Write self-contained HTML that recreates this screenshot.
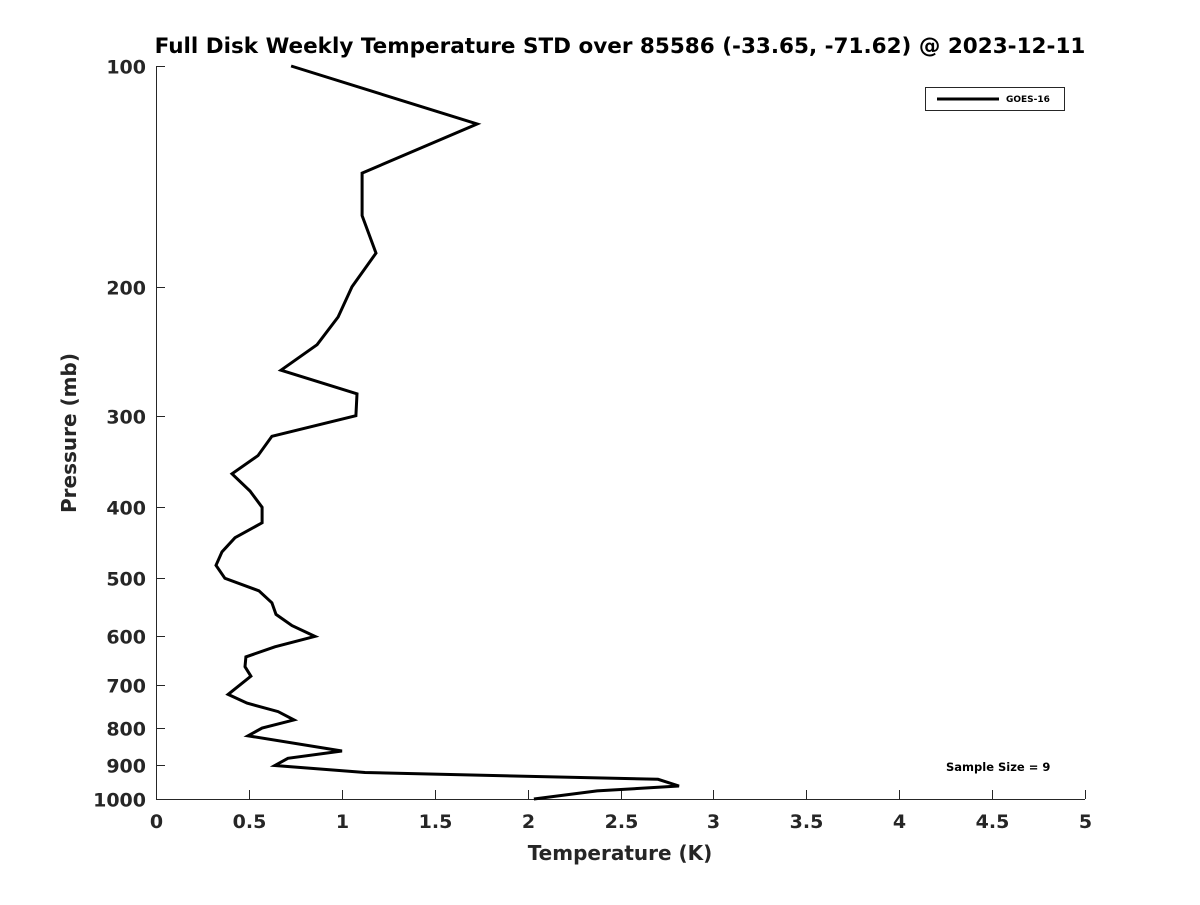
<!DOCTYPE html>
<html><head><meta charset="utf-8"><style>
body{margin:0;background:#fff}
svg text{font-family:"DejaVu Sans","Liberation Sans",sans-serif;font-weight:bold;fill:#262626}
</style></head><body>
<svg id="chart" width="1200" height="900" xmlns="http://www.w3.org/2000/svg">
<rect width="1200" height="900" fill="#fff"/>
<text x="620" y="53" text-anchor="middle" font-size="21.5" style="fill:#000">Full Disk Weekly Temperature STD over 85586 (-33.65, -71.62) @ 2023-12-11</text>
<g id="axes"></g>
<text x="620" y="860" text-anchor="middle" font-size="20">Temperature (K)</text>
<text transform="translate(76,433) rotate(-90)" text-anchor="middle" font-size="20">Pressure (mb)</text>
<g>
<rect x="925.5" y="87.5" width="139" height="23" fill="#fff" stroke="#262626" stroke-width="1"/>
<line x1="937" y1="99" x2="999" y2="99" stroke="#000" stroke-width="3"/>
<text x="1006" y="102" font-size="9" style="fill:#000">GOES-16</text>
</g>
<text x="946" y="771" font-size="11.5" style="fill:#000">Sample Size = 9</text>
</svg>
<script>
const temps=[0.727,1.728,1.109,1.109,1.184,1.055,0.980,0.867,0.673,1.082,1.076,0.624,0.549,0.409,0.506,0.571,0.571,0.425,0.355,0.323,0.371,0.554,0.624,0.646,0.732,0.856,0.640,0.484,0.479,0.511,0.388,0.490,0.657,0.743,0.571,0.495,1.001,0.710,0.640,1.125,2.702,2.815,2.374,2.034];
const pressures=[100,120,140,160,180,200,220,240,260,280,300,320,340,360,380,400,420,440,460,480,500,520,540,560,580,600,620,640,660,680,720,740,760,780,800,820,860,880,900,920,940,960,975,1000];
const xTicks=[0,0.5,1,1.5,2,2.5,3,3.5,4,4.5,5];
const xTickLabels=["0","0.5","1","1.5","2","2.5","3","3.5","4","4.5","5"];
const yTicks=[100,200,300,400,500,600,700,800,900,1000];
const yTickLabels=["100","200","300","400","500","600","700","800","900","1000"];
const X0=156,X1=1085,Y0=66,Y1=799;
function xs(v){return X0+(v-0)/(5-0)*(X1-X0);}
function ys(p){return Y0+(Math.log10(p)-2)/(3-2)*(Y1-Y0);}
const NS="http://www.w3.org/2000/svg";
const g=document.getElementById('axes');
function mk(t,a){const e=document.createElementNS(NS,t);for(const k in a)e.setAttribute(k,a[k]);g.appendChild(e);return e;}
const ax=mk('path',{d:`M${X0+0.5},${Y0}V${Y1+0.5}H${X1}`,fill:'none',stroke:'#262626','stroke-width':1});


xTicks.forEach((v,i)=>{
 const x=Math.round(xs(v))+0.5;
 const t=mk('line',{x1:x,x2:x,y1:Y1,y2:Y1-9,stroke:'#262626'});
 
 
 const l=mk('text',{x:x,y:Y1+29,'text-anchor':'middle','font-size':19});
 l.textContent=xTickLabels[i];
 
 
});
yTicks.forEach((p,i)=>{
 const y=Math.round(ys(p))+0.5;
 const t=mk('line',{x1:X0,x2:X0+9,y1:y,y2:y,stroke:'#262626'});
 
 
 const l=mk('text',{x:X0-10,y:y+7,'text-anchor':'end','font-size':19});
 l.textContent=yTickLabels[i];
 
 
});
const pts=temps.map((v,i)=>xs(v).toFixed(1)+','+ys(pressures[i]).toFixed(1)).join(' ');
const line=mk('polyline',{points:pts,fill:'none',stroke:'#000','stroke-width':3,'stroke-linejoin':'miter'});


</script>
</body></html>
